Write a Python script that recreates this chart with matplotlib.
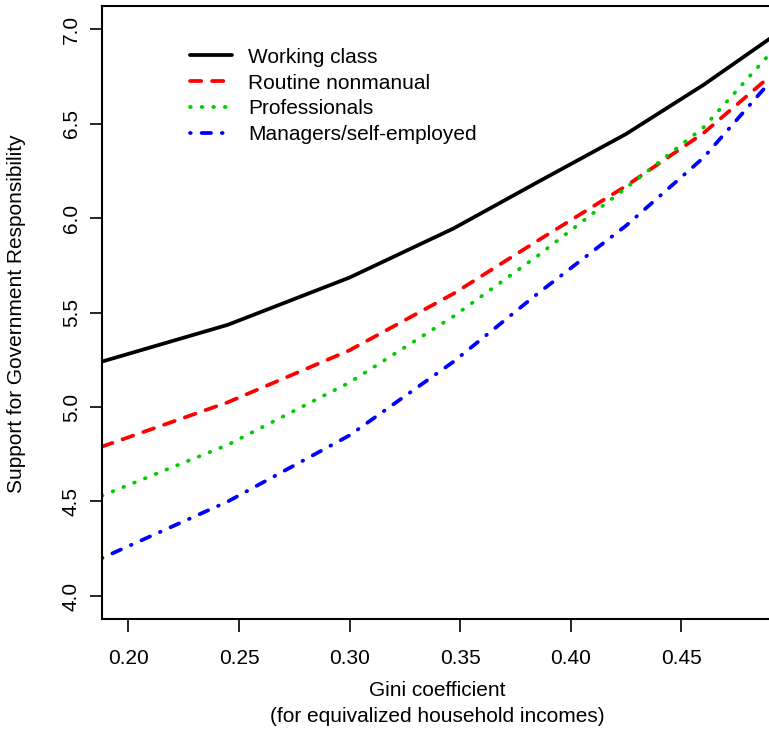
import matplotlib
matplotlib.use("Agg")
import matplotlib.pyplot as plt

plt.rcParams['font.family'] = ['Liberation Sans', 'DejaVu Sans']

gini = [0.188, 0.245, 0.300, 0.347, 0.385, 0.425, 0.460, 0.490]
working = [5.24, 5.435, 5.685, 5.945, 6.19, 6.445, 6.705, 6.95]
routine = [4.79, 5.025, 5.30, 5.60, 5.88, 6.17, 6.45, 6.75]
professionals = [4.53, 4.80, 5.13, 5.48, 5.80, 6.16, 6.48, 6.87]
managers = [4.20, 4.50, 4.85, 5.24, 5.60, 5.96, 6.32, 6.72]

labels = ["Working class", "Routine nonmanual", "Professionals", "Managers/self-employed"]
xticks = [0.20, 0.25, 0.30, 0.35, 0.40, 0.45]
yticks = [4.0, 4.5, 5.0, 5.5, 6.0, 6.5, 7.0]

W, H = 769, 732
fig = plt.figure(figsize=(W/100, H/100), dpi=100)
ax = fig.add_axes([102/W, 1-619/H, (770-102)/W, (619-6)/H])

FS = 15
lw = 2.7
ax.plot(gini, working, color='black', lw=lw, solid_capstyle='round', label=labels[0])
ax.plot(gini, routine, color='#FF0000', lw=lw, dashes=(3.0, 2.87), dash_capstyle='round', label=labels[1])
ax.plot(gini, professionals, color='#00CD00', lw=lw, dashes=(0.2, 2.9), dash_capstyle='round', label=labels[2])
ax.plot(gini, managers, color='#0000FF', lw=lw, dashes=(0.2, 2.9, 2.5, 2.9), dash_capstyle='round', label=labels[3])

ax.set_xlim(0.1881, 0.4900)
ax.set_ylim(3.878, 7.122)
ax.set_xticks(xticks)
ax.set_xticklabels([f"{v:.2f}" for v in xticks])
ax.set_yticks(yticks)
ax.set_yticklabels([f"{v:.1f}" for v in yticks], rotation=90, va='center')
ax.tick_params(axis='both', length=9, width=1.2, labelsize=FS)
ax.tick_params(axis='y', pad=6.2)
ax.tick_params(axis='x', pad=12.5)
for s in ['left', 'top', 'bottom']:
    ax.spines[s].set_linewidth(1.5)
ax.spines['right'].set_visible(False)

fig.text(437/W, 1-690/H, "Gini coefficient", ha='center', va='center', fontsize=FS)
fig.text(437/W, 1-717/H, "(for equivalized household incomes)", ha='center', va='center', fontsize=FS)
fig.text(17/W, 1-314/H, "Support for Government Responsibility", ha='center', va='center',
         rotation=90, fontsize=FS)

leg = ax.legend(loc='upper left', bbox_to_anchor=(0.1193, 0.9455), frameon=False, fontsize=FS,
                handlelength=2.0, handletextpad=0.8, labelspacing=0.33, borderaxespad=0)

fig.savefig("out.png", dpi=100)
